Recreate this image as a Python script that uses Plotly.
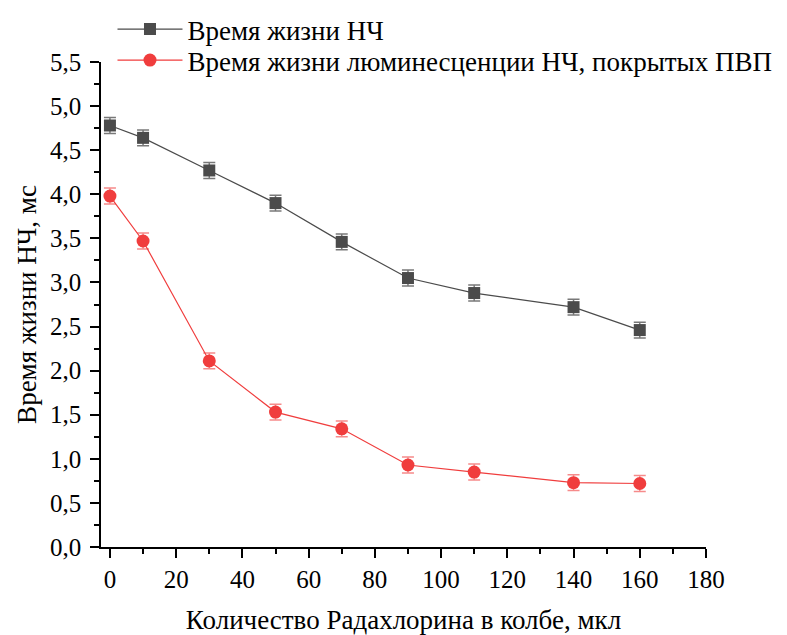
import plotly.graph_objects as go

# Amount of Radachlorin in the flask, µl
x_vals = [0, 10, 30, 50, 70, 90, 110, 140, 160]

# Nanoparticle lifetime, ms
np_lifetime = [4.78, 4.64, 4.27, 3.90, 3.46, 3.05, 2.88, 2.72, 2.46]
np_err = [0.09, 0.09, 0.09, 0.09, 0.09, 0.09, 0.09, 0.09, 0.09]

# Luminescence lifetime of PVP-coated nanoparticles, ms
pvp_lifetime = [3.98, 3.47, 2.11, 1.53, 1.34, 0.93, 0.85, 0.73, 0.72]
pvp_err = [0.09, 0.09, 0.09, 0.09, 0.09, 0.09, 0.09, 0.09, 0.09]

series_names = ["Время жизни НЧ", "Время жизни люминесценции НЧ, покрытых ПВП"]

x_ticks = list(range(0, 181, 20))
y_ticks = [i * 0.5 for i in range(12)]
y_tick_text = [f"{v:.1f}".replace(".", ",") for v in y_ticks]

FONT = "Liberation Serif, Times New Roman, serif"
DARK = "#4b4b4b"
RED = "#f03d3d"

fig = go.Figure()
fig.add_trace(go.Scatter(
    x=x_vals, y=np_lifetime, name=series_names[0], mode="lines+markers",
    line=dict(color=DARK, width=1.2),
    marker=dict(symbol="square", size=12, color=DARK),
    error_y=dict(type="data", array=np_err, visible=True,
                 color="rgba(75,75,75,0.75)", thickness=1.5, width=6),
    legend="legend",
))
fig.add_trace(go.Scatter(
    x=x_vals, y=pvp_lifetime, name=series_names[1], mode="lines+markers",
    line=dict(color=RED, width=1.2),
    marker=dict(symbol="circle", size=13, color=RED),
    error_y=dict(type="data", array=pvp_err, visible=True,
                 color="rgba(240,61,61,0.6)", thickness=1.5, width=6),
    legend="legend2",
))

axis_common = dict(
    showline=True, linecolor="black", linewidth=1.5, mirror=False,
    ticks="outside", ticklen=9, tickwidth=1.5, tickcolor="black",
    showgrid=False, zeroline=False, automargin=False,
    tickfont=dict(family=FONT, size=25, color="black"),
)

legend_common = dict(
    xanchor="left", yanchor="top",
    bgcolor="rgba(0,0,0,0)", font=dict(family=FONT, size=27),
    itemwidth=65,
)

fig.update_layout(
    width=787, height=635,
    margin=dict(l=101, r=81, t=62, b=88, autoexpand=False),
    paper_bgcolor="white", plot_bgcolor="white",
    font=dict(family=FONT, size=27, color="black"),
    showlegend=True,
    legend=dict(legend_common, x=0.019, y=1.1175),
    legend2=dict(legend_common, x=0.019, y=1.0535),
    xaxis=dict(
        axis_common, range=[-2.7, 180], tickvals=x_ticks,
        minor=dict(ticks="outside", ticklen=5, tickwidth=1.5, tickcolor="black", dtick=10, tick0=0),
        title=dict(text="Количество Радахлорина в колбе, мкл",
                   font=dict(family=FONT, size=27), standoff=34),
    ),
    yaxis=dict(
        axis_common, range=[0, 5.5], tickvals=y_ticks, ticktext=y_tick_text,
        ticklabelstandoff=4,
        minor=dict(ticks="outside", ticklen=5, tickwidth=1.5, tickcolor="black", dtick=0.25, tick0=0),
        title=dict(text="Время жизни НЧ, мс",
                   font=dict(family=FONT, size=27), standoff=6),
    ),
)

fig.write_html("out.html")
